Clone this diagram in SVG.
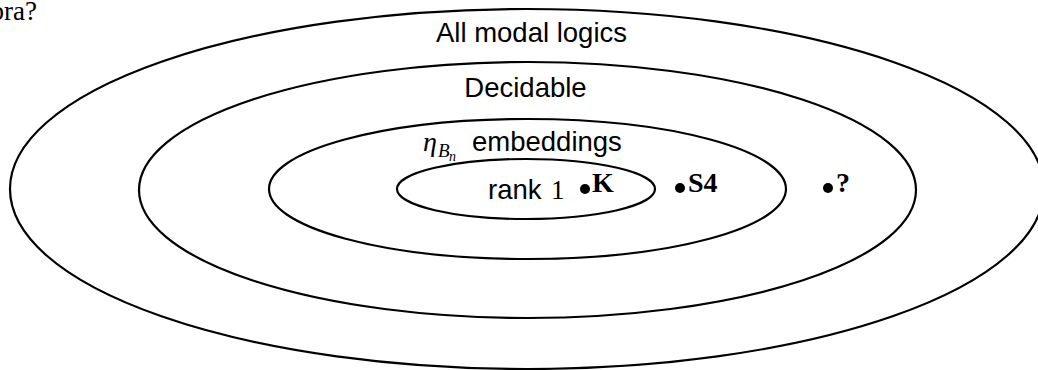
<svg xmlns="http://www.w3.org/2000/svg" width="1038" height="370" viewBox="0 0 1038 370">
  <style>
    .ring { fill: none; stroke: #000; stroke-width: 2.2; }
    .sans { font-family: "Liberation Sans", Arial, sans-serif; font-size: 27.5px; fill: #000; }
    .serif { font-family: "Liberation Serif", "Times New Roman", serif; font-size: 27px; fill: #000; }
    .bold { font-family: "Liberation Serif", "Times New Roman", serif; font-size: 28px; font-weight: bold; fill: #000; }
    .ital { font-family: "Liberation Serif", "Times New Roman", serif; font-style: italic; fill: #000; }
    .dot { fill: #000; }
  </style>
  <rect width="1038" height="370" fill="#fff"/>

  <!-- heading fragment at the top-left edge -->
  <text class="serif" x="-9.5" y="20">bra?</text>

  <g id="all-modal-logics">
    <ellipse class="ring" cx="527" cy="189" rx="517" ry="180"/>
    <text class="sans" x="531.5" y="42" text-anchor="middle">All modal logics</text>
  </g>

  <g id="decidable">
    <ellipse class="ring" cx="527.5" cy="190" rx="388.5" ry="128"/>
    <text class="sans" x="525.5" y="97" text-anchor="middle">Decidable</text>
  </g>

  <g id="eta-embeddings">
    <ellipse class="ring" cx="527.5" cy="189" rx="258.5" ry="70"/>
    <text class="ital" x="423" y="151" font-size="28">η</text>
    <text class="ital" x="438" y="157" font-size="19">B</text>
    <text class="ital" x="449" y="161" font-size="14">n</text>
    <text class="sans" x="472" y="151">embeddings</text>
  </g>

  <g id="rank-1">
    <ellipse class="ring" cx="526" cy="189" rx="129" ry="30"/>
    <text class="sans" x="488" y="199">rank</text>
    <text class="serif" x="551" y="199">1</text>
  </g>

  <g id="logic-K">
    <circle class="dot" cx="585" cy="189" r="5"/>
    <text class="bold" x="592" y="192">K</text>
  </g>

  <g id="logic-S4">
    <circle class="dot" cx="680" cy="188" r="5"/>
    <text class="bold" x="688" y="192">S4</text>
  </g>

  <g id="logic-unknown">
    <circle class="dot" cx="828" cy="188" r="5"/>
    <text class="bold" x="836" y="192">?</text>
  </g>

  <g id="connectors"></g>
</svg>
